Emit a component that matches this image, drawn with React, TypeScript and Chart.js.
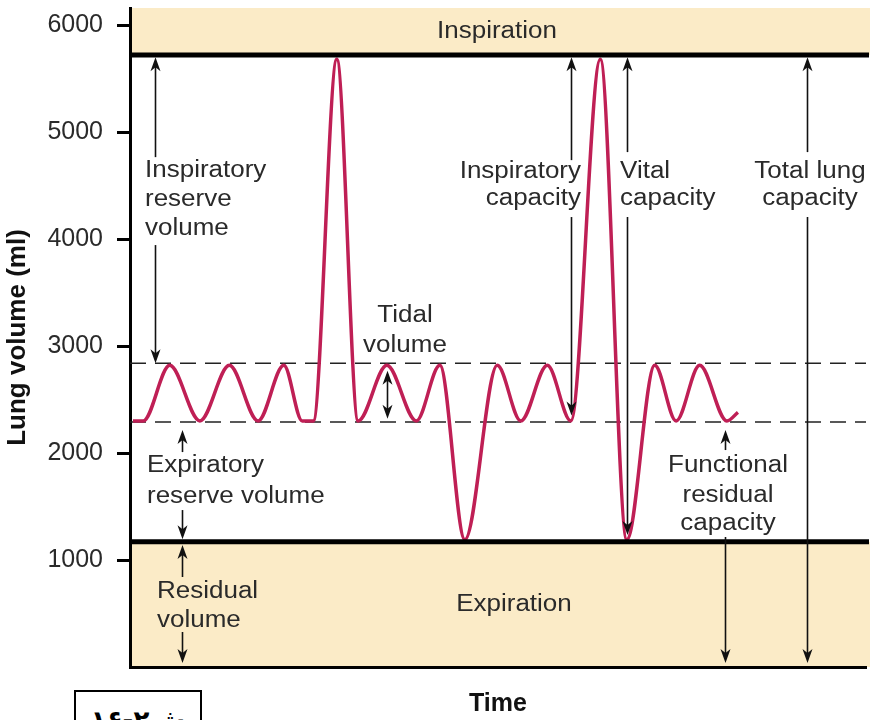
import React, { useEffect, useRef } from 'react';
import { Chart, registerables } from 'chart.js';

Chart.register(...registerables);

// ---- Data ----
const breathTime = [0.4, 1.8, 5.4, 9.5, 13.5, 17.4, 20.9, 23.4, 24.9, 28.1, 31.0, 34.9, 38.9, 42.1, 45.5, 49.9, 53.1, 56.7, 59.9, 63.9, 67.5, 71.3, 74.2, 77.4, 81.1, 82.6];
const breathVolume = [2300, 2300, 2820, 2300, 2820, 2300, 2820, 2300, 2300, 5680, 2300, 2820, 2300, 2820, 1190, 2820, 2300, 2820, 2300, 5680, 1190, 2820, 2300, 2820, 2300, 2380];
const yTickValues = [1000, 2000, 3000, 4000, 5000, 6000];

const TOTAL_LUNG_LEVEL = 5720;
const RESIDUAL_LEVEL = 1170;
const TIDAL_TOP = 2840;
const TIDAL_BOTTOM = 2290;
const Y_MAX = 6160;
const X_MAX = 100;

// Arrows: x (time), from (top value), to (bottom value), optional gap in value
const arrows = [
  { x: 3.4, from: 5700, to: 2840, gap: [4766, 3944] },
  { x: 7.07, from: 2215, to: 1195, gap: [2009, 1467] },
  { x: 7.07, from: 1140, to: 37, gap: [841, 327] },
  { x: 34.92, from: 2770, to: 2320 },
  { x: 59.92, from: 5700, to: 2350, gap: [4738, 4206] },
  { x: 67.53, from: 5700, to: 1234, gap: [4813, 4206] },
  { x: 91.98, from: 5700, to: 37, gap: [4813, 4206] },
  { x: 80.84, from: 2215, to: 37, gap: [2028, 1215] },
];

const labels = [
  { lines: ['Inspiratory', 'reserve', 'volume'], x: 2.04, base: [4579, 4308, 4037], align: 'left' },
  { lines: ['Expiratory', 'reserve volume'], x: 2.31, base: [1822, 1533], align: 'left' },
  { lines: ['Residual', 'volume'], x: 3.67, base: [645, 374], align: 'left' },
  { lines: ['Tidal', 'volume'], x: 37.36, base: [3224, 2944], align: 'center' },
  { lines: ['Inspiratory', 'capacity'], x: 61.28, base: [4570, 4318], align: 'right' },
  { lines: ['Vital', 'capacity'], x: 66.58, base: [4570, 4318], align: 'left' },
  { lines: ['Total lung', 'capacity'], x: 92.39, base: [4570, 4318], align: 'center' },
  { lines: ['Functional', 'residual', 'capacity'], x: 81.25, base: [1822, 1542, 1280], align: 'center' },
  { lines: ['Inspiration'], x: 49.86, base: [5879], align: 'center' },
  { lines: ['Expiration'], x: 52.17, base: [523], align: 'center' },
];

const FIGURE_LABEL = 'ش۲-۱۶';

const TAN = '#fbebc7';
const TEXT_COLOR = '#2a2a2a';
const CURVE_COLOR = '#bf1f55';
const LABEL_FONT = '23px "Liberation Sans", Arial, sans-serif';
const LABEL_SX = 1.13;

function arrowHead(ctx: CanvasRenderingContext2D, x: number, tipY: number, dir: number) {
  const L = 14, W = 5;
  ctx.beginPath();
  ctx.moveTo(x, tipY);
  ctx.lineTo(x - W, tipY - dir * L);
  ctx.lineTo(x, tipY - dir * (L - 4));
  ctx.lineTo(x + W, tipY - dir * L);
  ctx.closePath();
  ctx.fill();
}

const spiroPlugin = {
  id: 'spiro',
  beforeDraw(chart: any) {
    const { ctx, chartArea, scales } = chart;
    const y = scales.y;
    if (!y) return;
    ctx.save();
    ctx.fillStyle = TAN;
    const right = chartArea.right + 4;
    const yTop = y.getPixelForValue(TOTAL_LUNG_LEVEL);
    ctx.fillRect(chartArea.left, chartArea.top, right - chartArea.left, yTop - chartArea.top);
    const yRes = y.getPixelForValue(RESIDUAL_LEVEL);
    const y0 = y.getPixelForValue(0);
    ctx.fillRect(chartArea.left, yRes, right - chartArea.left, y0 - yRes);
    ctx.restore();
  },
  beforeDatasetsDraw(chart: any) {
    const { ctx, chartArea, scales } = chart;
    const y = scales.y;
    ctx.save();
    ctx.strokeStyle = '#222';
    ctx.lineWidth = 1.5;
    ctx.setLineDash([16, 9]);
    [TIDAL_TOP, TIDAL_BOTTOM].forEach((v) => {
      const py = y.getPixelForValue(v);
      ctx.beginPath();
      ctx.moveTo(chartArea.left, py);
      ctx.lineTo(chartArea.right, py);
      ctx.stroke();
    });
    ctx.restore();
  },
  afterDatasetsDraw(chart: any) {
    const { ctx, chartArea, scales } = chart;
    const x = scales.x;
    const y = scales.y;
    ctx.save();
    // thick boundary lines
    ctx.strokeStyle = '#000';
    ctx.lineWidth = 5;
    [TOTAL_LUNG_LEVEL, RESIDUAL_LEVEL].forEach((v) => {
      const py = y.getPixelForValue(v);
      ctx.beginPath();
      ctx.moveTo(chartArea.left, py);
      ctx.lineTo(chartArea.right + 3, py);
      ctx.stroke();
    });
    // arrows
    ctx.strokeStyle = '#111';
    ctx.fillStyle = '#111';
    ctx.lineWidth = 1.6;
    arrows.forEach((a) => {
      const px = Math.round(x.getPixelForValue(a.x)) + 0.5;
      const top = y.getPixelForValue(a.from);
      const bot = y.getPixelForValue(a.to);
      const segs: number[][] = a.gap
        ? [[top + 6, y.getPixelForValue(a.gap[0])], [y.getPixelForValue(a.gap[1]), bot - 6]]
        : [[top + 6, bot - 6]];
      segs.forEach(([s, e]) => {
        ctx.beginPath();
        ctx.moveTo(px, s);
        ctx.lineTo(px, e);
        ctx.stroke();
      });
      arrowHead(ctx, px, top, -1);
      arrowHead(ctx, px, bot, 1);
    });
    // labels
    ctx.fillStyle = TEXT_COLOR;
    ctx.font = LABEL_FONT;
    ctx.textBaseline = 'alphabetic';
    labels.forEach((l) => {
      const px = x.getPixelForValue(l.x);
      l.lines.forEach((t, i) => {
        const py = y.getPixelForValue(l.base[i]);
        ctx.save();
        ctx.translate(px, py);
        ctx.scale(LABEL_SX, 1);
        ctx.textAlign = l.align as CanvasTextAlign;
        ctx.fillText(t, 0, 0);
        ctx.restore();
      });
    });
    ctx.restore();
  },
};

export default function App() {
  const ref = useRef<HTMLCanvasElement>(null);
  useEffect(() => {
    const chart = new Chart(ref.current as HTMLCanvasElement, {
      type: 'line',
      data: {
        datasets: [
          {
            label: 'Lung volume',
            data: breathTime.map((t, i) => ({ x: t, y: breathVolume[i] })),
            borderColor: CURVE_COLOR,
            borderWidth: 3.5,
            pointRadius: 0,
            fill: false,
            cubicInterpolationMode: 'monotone',
          },
        ],
      },
      options: {
        animation: false,
        responsive: true,
        maintainAspectRatio: false,
        layout: { padding: { top: 8, right: 8, left: 0, bottom: 0 }, autoPadding: false } as any,
        plugins: { legend: { display: false }, tooltip: { enabled: false } },
        scales: {
          x: {
            type: 'linear',
            min: 0,
            max: X_MAX,
            ticks: { display: false },
            grid: { display: false },
            border: { display: true, width: 3, color: '#000' },
            title: {
              display: true,
              text: 'Time',
              color: '#111',
              font: { family: '"Liberation Sans", Arial, sans-serif', size: 25, weight: 'bold' },
              padding: { top: 22, bottom: 1 },
            },
            afterFit: (s: any) => {
              s.height = 53;
              s.paddingLeft = 0; s.paddingRight = 0; s.paddingTop = 0; s.paddingBottom = 0;
            },
          },
          y: {
            type: 'linear',
            min: 0,
            max: Y_MAX,
            afterBuildTicks: (s: any) => {
              s.ticks = yTickValues.map((v) => ({ value: v }));
            },
            ticks: {
              color: TEXT_COLOR,
              padding: 14,
              font: { family: '"Liberation Sans", Arial, sans-serif', size: 25 },
              callback: (v: any) => String(v),
            },
            grid: { display: true, drawOnChartArea: false, drawTicks: true, tickLength: 13, lineWidth: 3, color: '#000' },
            border: { display: true, width: 3, color: '#000' },
            title: {
              display: true,
              text: 'Lung volume (ml)',
              color: '#111',
              font: { family: '"Liberation Sans", Arial, sans-serif', size: 26, weight: 'bold' },
              padding: { top: 2, bottom: 0 },
            },
            afterFit: (s: any) => {
              s.width = 130;
              s.paddingLeft = 0; s.paddingRight = 0; s.paddingTop = 0; s.paddingBottom = 0;
            },
          },
        },
      } as any,
      plugins: [spiroPlugin],
    });
    return () => chart.destroy();
  }, []);

  return (
    <div style={{ position: 'fixed', left: 0, top: 0, width: 874, height: 720, overflow: 'hidden', background: '#fff' }}>
      <div style={{ position: 'absolute', left: 0, top: 0, width: 874, height: 720 }}>
        <canvas ref={ref} />
      </div>
      <div
        dir="rtl"
        style={{
          position: 'absolute',
          left: 74,
          top: 690,
          width: 128,
          height: 50,
          border: '2px solid #000',
          boxSizing: 'border-box',
          background: '#fff',
          fontFamily: '"DejaVu Sans", sans-serif',
          fontWeight: 'bold',
          fontSize: 26,
          lineHeight: '30px',
          paddingTop: 13,
          textAlign: 'center',
          color: '#000',
        }}
      >
        {FIGURE_LABEL}
      </div>
    </div>
  );
}
